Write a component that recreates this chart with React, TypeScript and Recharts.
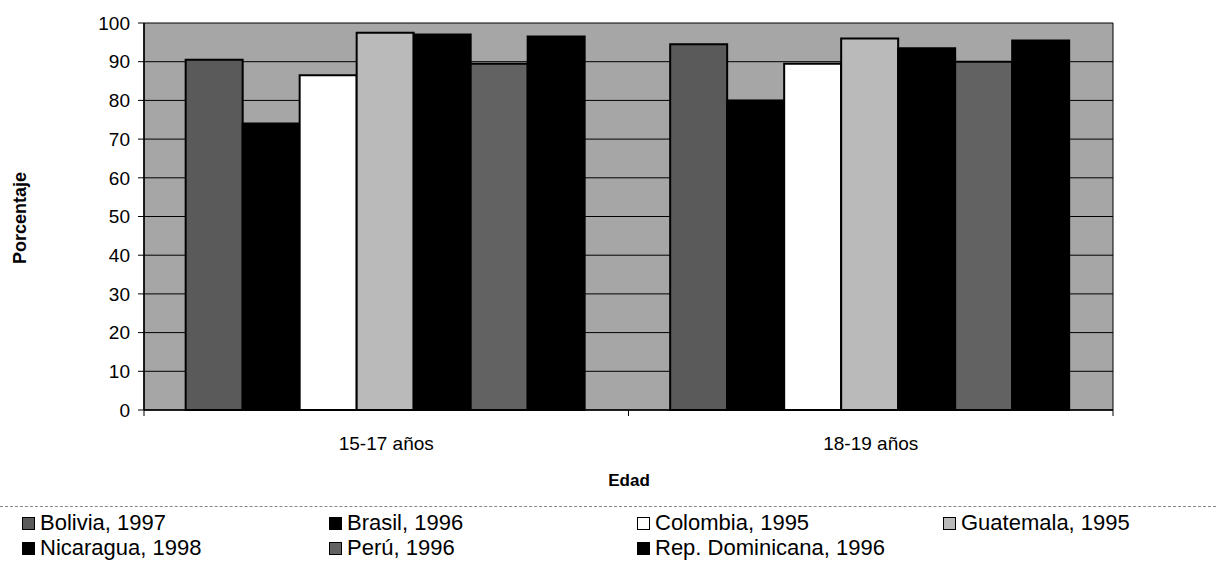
import React from "react";
import { BarChart, Bar, XAxis, YAxis, CartesianGrid } from "recharts";

const categories = ["15-17 años", "18-19 años"];
const bolivia = [90.5, 94.5];
const brasil = [74, 80];
const colombia = [86.5, 89.5];
const guatemala = [97.5, 96];
const nicaragua = [97, 93.5];
const peru = [89.5, 90];
const repDominicana = [96.5, 95.5];
const yTicks = [0, 10, 20, 30, 40, 50, 60, 70, 80, 90, 100];

const series = [
  { key: "bolivia", name: "Bolivia, 1997", values: bolivia, color: "#5a5a5a" },
  { key: "brasil", name: "Brasil, 1996", values: brasil, color: "#000000" },
  { key: "colombia", name: "Colombia, 1995", values: colombia, color: "#ffffff" },
  { key: "guatemala", name: "Guatemala, 1995", values: guatemala, color: "#bababa" },
  { key: "nicaragua", name: "Nicaragua, 1998", values: nicaragua, color: "#000000" },
  { key: "peru", name: "Perú, 1996", values: peru, color: "#626262" },
  { key: "repdom", name: "Rep. Dominicana, 1996", values: repDominicana, color: "#000000" },
];

const data = categories.map((c, i) => {
  const row: Record<string, string | number> = { cat: c };
  series.forEach((s) => (row[s.key] = s.values[i]));
  return row;
});

const FONT = '"Liberation Sans", Arial, sans-serif';

// category labels plus the small tick marks at the band edges
function XTick(props: any) {
  const { x, y, payload } = props;
  const half = payload?.offset ?? 242;
  return (
    <g>
      <line x1={x - half} x2={x - half} y1={y} y2={y + 6} stroke="#000" />
      <line x1={x + half} x2={x + half} y1={y} y2={y + 6} stroke="#000" />
      <text x={x} y={y + 35} textAnchor="middle" dominantBaseline="middle" fontSize={19} fill="#000" fontFamily={FONT}>
        {payload.value}
      </text>
    </g>
  );
}

export default function App() {
  return (
    <div style={{ position: "absolute", left: 0, top: 0, width: 1216, height: 561, background: "#fff", fontFamily: FONT }}>
      <BarChart
        width={1216}
        height={470}
        data={data}
        margin={{ top: 23, right: 103, left: 84, bottom: 20 }}
        barCategoryGap="8.6%"
        barGap={0}
      >
        <CartesianGrid
          vertical={true}
          horizontal={true}
          stroke="#000"
          strokeOpacity={1}
          fill="#a6a6a6"
          fillOpacity={1}
          verticalCoordinatesGenerator={({ offset }: any) => [offset.left, offset.left + offset.width]}
        />
        <XAxis
          dataKey="cat"
          tickLine={false}
          tickSize={0}
          tickMargin={0}
          height={40}
          axisLine={{ stroke: "#000", strokeWidth: 1.5 }}
          tick={<XTick />}
        />
        <YAxis
          domain={[0, 100]}
          ticks={yTicks}
          width={60}
          tickSize={6}
          tickMargin={8}
          axisLine={{ stroke: "#000", strokeWidth: 1.5 }}
          tickLine={{ stroke: "#000" }}
          tick={{ fill: "#000", fontSize: 19, fontFamily: FONT }}
          interval={0}
        />
        {series.map((s) => (
          <Bar
            key={s.key}
            dataKey={s.key}
            name={s.name}
            fill={s.color}
            stroke="#000"
            strokeWidth={2}
            isAnimationActive={false}
          />
        ))}
      </BarChart>

      <div
        style={{
          position: "absolute",
          left: 20,
          top: 218,
          transform: "translate(-50%, -50%) rotate(-90deg)",
          fontSize: 18,
          fontWeight: "bold",
          whiteSpace: "nowrap",
        }}
      >
        Porcentaje
      </div>
      <div
        style={{
          position: "absolute",
          left: 629,
          top: 481,
          transform: "translate(-50%, -50%)",
          fontSize: 17,
          fontWeight: "bold",
        }}
      >
        Edad
      </div>

      <div style={{ position: "absolute", left: 0, top: 506, width: 1216, borderTop: "1px dashed #888" }} />

      <div style={{ position: "absolute", left: 22, top: 511, width: 1200, display: "grid", gridTemplateColumns: "307px 308px 306px 280px", rowGap: 1 }}>
        {series.map((s) => (
          <div key={s.key} style={{ display: "flex", alignItems: "center", height: 24, fontSize: 22, whiteSpace: "nowrap" }}>
            <span
              style={{
                display: "inline-block",
                width: 11,
                height: 11,
                background: s.color,
                border: "1.5px solid #000",
                marginRight: 5,
              }}
            />
            {s.name}
          </div>
        ))}
      </div>
    </div>
  );
}
